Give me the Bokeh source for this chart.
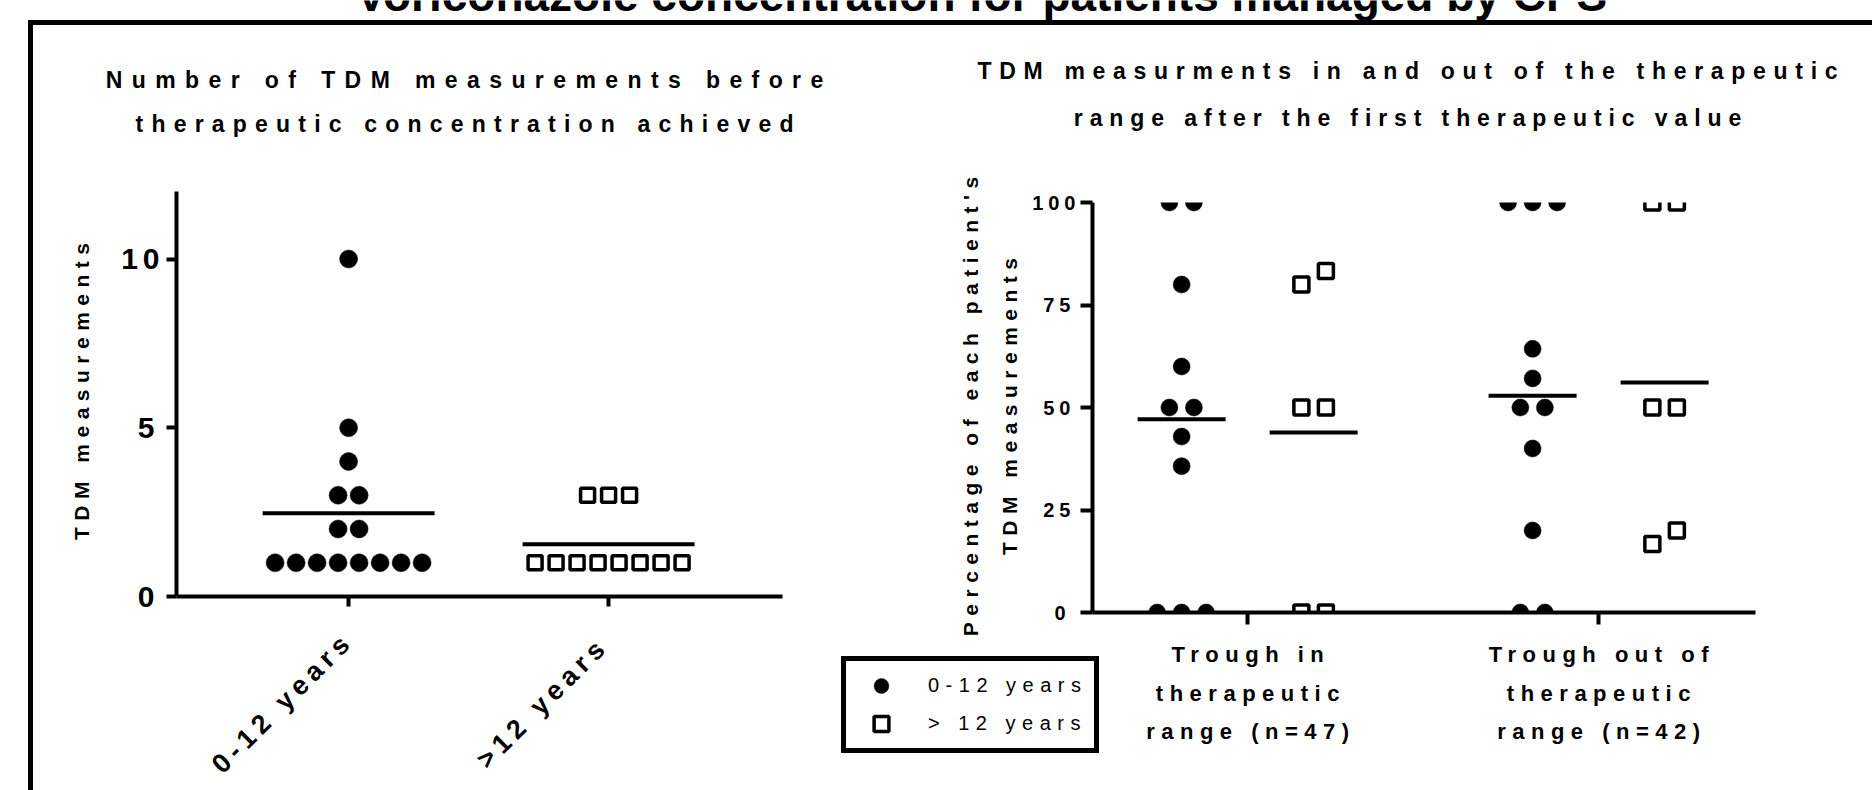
import numpy as np
from bokeh.plotting import figure
from bokeh.models import Range1d, FixedTicker, Label, Legend, LegendItem, Spacer
from bokeh.layouts import column
from bokeh.embed import file_html
from bokeh.resources import INLINE

W, H = 1872, 790
FONT = "Liberation Sans"
LS_TICK = 5    # css letter spacing (px) of tick numbers
LS_AX = 6.5    # letter spacing of axis titles, category labels, legend
LS_ROT = 5.5   # letter spacing of the rotated category labels
LS_SUB = [9.4, 8.2, 7.7, 6.9]   # letter spacing of the four panel-title lines

# ---------------- data ----------------
main_title = "Voriconazole concentration for patients managed by CPS"
left_title_lines = ["Number of TDM measurements before", "therapeutic concentration achieved"]
right_title_lines = ["TDM measurments in and out of the therapeutic",
                     "range after the first therapeutic value"]

left_categories = ["0-12 years", ">12 years"]
left_young = [1, 1, 1, 1, 1, 1, 1, 1, 2, 2, 3, 3, 4, 5, 10]
left_old = [1, 1, 1, 1, 1, 1, 1, 1, 3, 3, 3]
left_y_ticks = [0, 5, 10]
left_y_label = "TDM measurements"

right_categories = [["Trough in", "therapeutic", "range (n=47)"],
                    ["Trough out of", "therapeutic", "range (n=42)"]]
in_young = [100, 100, 80, 60, 50, 50, 42.9, 35.7, 0, 0, 0]
in_old = [83.3, 80, 50, 50, 0, 0]
out_young = [100, 100, 100, 64.3, 57.1, 50, 50, 40, 20, 0, 0]
out_old = [100, 100, 50, 50, 20, 16.7]
right_y_ticks = [0, 25, 50, 75, 100]
right_y_label = ["Percentage of each patient's", "TDM measurements"]
series_names = ["0-12 years", "> 12 years"]

# ---------------- geometry (page pixels) ----------------
L_FRAME = dict(left=176, right=782, top=191, bottom=596)
L_CANVAS = dict(x=90, y=176, w=710, h=480)
R_FRAME = dict(left=1092, right=1755, top=202, bottom=612)
R_CANVAS = dict(x=1010, y=187, w=785, h=485)
lx0, lx1, ly0, ly1 = 0.338, 2.669, 0, 12
rx0, rx1, ry0, ry1 = 0.558, 2.447, 0, 100


def swarm(values, center, step, px_per_y, min_gap):
    """simple beeswarm: values closer than min_gap pixels are laid side by side"""
    vals = sorted(values)
    clusters = []
    for v in vals:
        if clusters and (v - clusters[-1][-1]) * px_per_y < min_gap:
            clusters[-1].append(v)
        else:
            clusters.append([v])
    xs, ys = [], []
    for c in clusters:
        n = len(c)
        for i, v in enumerate(c):
            xs.append(center + (i - (n - 1) / 2) * step)
            ys.append(v)
    return xs, ys


def chart(frame, canvas, xr, yr):
    p = figure(width=canvas["w"], height=canvas["h"], x_range=Range1d(*xr), y_range=Range1d(*yr),
               output_backend="svg", toolbar_location=None, outline_line_color=None,
               background_fill_color=None, border_fill_color=None,
               min_border_left=frame["left"] - canvas["x"],
               min_border_right=canvas["x"] + canvas["w"] - frame["right"],
               min_border_top=frame["top"] - canvas["y"],
               min_border_bottom=canvas["y"] + canvas["h"] - frame["bottom"])
    p.grid.visible = False
    return p


def style_axes(p, tick_len, tick_font, y_standoff):
    for ax in p.axis:
        ax.axis_line_width = 4
        ax.axis_line_color = "black"
        ax.major_tick_line_width = 4
        ax.major_tick_line_color = "black"
        ax.major_tick_in = 0
        ax.major_tick_out = tick_len
        ax.minor_tick_line_color = None
        ax.major_label_text_font = FONT
        ax.major_label_text_font_style = "bold"
        ax.major_label_text_color = "black"
        ax.major_label_text_font_size = tick_font
    p.yaxis.major_label_standoff = y_standoff
    p.xaxis.ticker = FixedTicker(ticks=[1, 2])
    p.xaxis.major_label_overrides = {1: "", 2: ""}


overlays = []


def overlay(ls):
    f = figure(width=W, height=H, x_range=Range1d(0, W), y_range=Range1d(H, 0),
               output_backend="svg", toolbar_location=None, x_axis_location=None,
               y_axis_location=None, min_border=0, outline_line_color=None,
               background_fill_color=None, border_fill_color=None)
    f.grid.visible = False
    overlays.append((f, ls))
    return f


def place(fig, x, y, z, ls=None):
    if ls is not None:
        fig.styles = {"letter-spacing": f"{ls}px"}
    return column(fig, styles={"position": "absolute", "left": f"{x}px", "top": f"{y}px",
                               "z-index": str(z)})


def text(fig, x, y, s, size, ls, bold=True, align="center", baseline="middle", angle=0.0):
    """label in page pixels; compensates css letter spacing for centred text"""
    comp = (len(s) - 1) * ls / 2
    fig.add_layout(Label(x=x - comp * np.cos(angle), y=y + comp * np.sin(angle), text=s,
                         angle=angle, text_align=align, text_baseline=baseline,
                         text_font=FONT, text_font_style="bold" if bold else "normal",
                         text_font_size=size, text_color="black"))


# ---------------- left panel ----------------
left = chart(L_FRAME, L_CANVAS, (lx0, lx1), (ly0, ly1))
style_axes(left, 10, "30px", 12)
left.yaxis.ticker = FixedTicker(ticks=left_y_ticks)
lpx_x = (L_FRAME["right"] - L_FRAME["left"]) / (lx1 - lx0)
lpx_y = (L_FRAME["bottom"] - L_FRAME["top"]) / (ly1 - ly0)
xa, ya = swarm(left_young, 1, 21 / lpx_x, lpx_y, 18)
xb, yb = swarm(left_old, 2, 21 / lpx_x, lpx_y, 18)
left.scatter(xa, ya, marker="circle", size=18, fill_color="black", line_color="black", line_width=0.5)
left.scatter(xb, yb, marker="square", size=14, fill_color="white", line_color="black", line_width=3.5)
lmeans = [float(np.mean(left_young)), float(np.mean(left_old))]
hw = 86 / lpx_x
left.segment(x0=[1 - hw, 2 - hw], x1=[1 + hw, 2 + hw], y0=lmeans, y1=lmeans,
             line_width=4, line_color="black")

# ---------------- right panel ----------------
right = chart(R_FRAME, R_CANVAS, (rx0, rx1), (ry0, ry1))
style_axes(right, 12, "20px", 15)
right.yaxis.ticker = FixedTicker(ticks=right_y_ticks)
rpx_x = (R_FRAME["right"] - R_FRAME["left"]) / (rx1 - rx0)
rpx_y = (R_FRAME["bottom"] - R_FRAME["top"]) / (ry1 - ry0)
sub = 66 / rpx_x
step = 24.5 / rpx_x
young_x, young_y, old_x, old_y = [], [], [], []
for cx, yv, ov in [(1, in_young, in_old), (2, out_young, out_old)]:
    a, b = swarm(yv, cx - sub, step, rpx_y, 18)
    young_x += a
    young_y += b
    a, b = swarm(ov, cx + sub, step, rpx_y, 18)
    old_x += a
    old_y += b
right.scatter(young_x, young_y, marker="circle", size=17, fill_color="black",
              line_color="black", line_width=0.5)
right.scatter(old_x, old_y, marker="square", size=15, fill_color="white",
              line_color="black", line_width=3.5)
rmeans = [float(np.mean(v)) for v in (in_young, in_old, out_young, out_old)]
rcent = [1 - sub, 1 + sub, 2 - sub, 2 + sub]
rhw = 44 / rpx_x
right.segment(x0=[c - rhw for c in rcent], x1=[c + rhw for c in rcent], y0=rmeans, y1=rmeans,
              line_width=4, line_color="black")

# ---------------- overlays with the free texts ----------------
ov_title = overlay(0)
ov_title.add_layout(Label(x=981, y=-6, text=main_title, text_align="center",
                          text_baseline="alphabetic", text_font=FONT, text_font_style="bold",
                          text_font_size="46px", text_color="black"))

sub_specs = [(464, 79, left_title_lines[0]), (464, 123, left_title_lines[1]),
             (1407, 70, right_title_lines[0]), (1407, 117, right_title_lines[1])]
for (cx, yy, s), ls in zip(sub_specs, LS_SUB):
    text(overlay(ls), cx, yy, s, "23px", ls)

ov_rot = overlay(LS_ROT)
for c, s in zip([1, 2], left_categories):
    px = L_FRAME["left"] + (c - lx0) * lpx_x
    text(ov_rot, px - 68, 704, s, "27px", LS_ROT, angle=np.pi / 4)

ov_ax = overlay(LS_AX)
text(ov_ax, 81, 391, left_y_label, "21px", LS_AX, angle=np.pi / 2)
for xx, s in zip([970, 1009], right_y_label):
    text(ov_ax, xx, 406, s, "21px", LS_AX, angle=np.pi / 2)
for c, lines in zip([1, 2], right_categories):
    px = R_FRAME["left"] + (c - rx0) * rpx_x
    for yy, s in zip([654, 693, 731], lines):
        text(ov_ax, px, yy, s, "22px", LS_AX)

# legend keys: one point each, kept outside the visible page, only used by the legend
k_young = ov_ax.scatter(x=[-500], y=[-500], marker="circle", size=17, fill_color="black",
                        line_color="black", line_width=0.5)
k_old = ov_ax.scatter(x=[-500], y=[-500], marker="square", size=15, fill_color="white",
                      line_color="black", line_width=3.5)
legend = Legend(items=[LegendItem(label=series_names[0], renderers=[k_young]),
                       LegendItem(label=series_names[1], renderers=[k_old])],
                location=(841, 37), orientation="vertical",
                border_line_color="black", border_line_width=5, border_line_alpha=1.0,
                background_fill_color="white", background_fill_alpha=1.0,
                label_text_font=FONT, label_text_font_size="20px", label_text_color="black",
                padding=6, spacing=1, glyph_width=58, glyph_height=37, label_height=37,
                label_standoff=18, label_width=160, margin=0)
ov_ax.add_layout(legend)

frame_box = Spacer(width=W - 28, height=H - 20,
                   styles={"position": "absolute", "left": "28px", "top": "20px",
                           "border-top": "5px solid black", "border-left": "5px solid black",
                           "box-sizing": "border-box"})

children = [frame_box,
            place(left, L_CANVAS["x"], L_CANVAS["y"], 1, LS_TICK),
            place(right, R_CANVAS["x"], R_CANVAS["y"], 2, LS_TICK)]
for i, (f, ls) in enumerate(overlays):
    children.append(place(f, 0, 0, 3 + i, ls))

root = column(*children, width=W, height=H, styles={"position": "relative"})

open("out.html", "w").write(file_html(root, INLINE))
